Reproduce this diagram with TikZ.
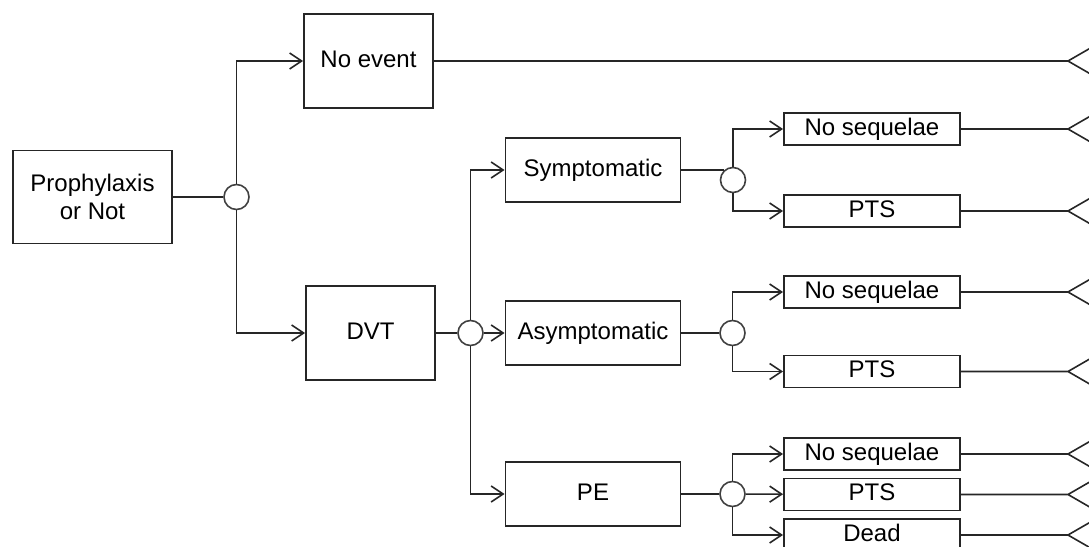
\documentclass[tikz,border=0pt]{standalone}
\usepackage{fontspec}
\setmainfont{Liberation Sans}
\usetikzlibrary{arrows.meta}

\begin{document}
\begin{tikzpicture}[x=0.5pt, y=-0.5pt,
  box/.style={draw=black!85, line width=0.9pt, align=center, inner sep=1pt,
              font=\fontsize{12}{14}\selectfont, text height=8.8pt, text depth=2.4pt},
  bigbox/.style={box, minimum width=64.5pt, minimum height=47pt},
  midbox/.style={box, minimum width=87.5pt, minimum height=32pt},
  endbox/.style={box, minimum width=88pt, minimum height=16pt},
  chance/.style={circle, draw=black!75, fill=white, line width=0.8pt,
                 minimum size=12.5pt, inner sep=0pt},
  line/.style={draw=black!85, line width=0.8pt},
  arr/.style={line, -{Straight Barb[length=6pt,width=8pt]}}]
\useasboundingbox (0,0) rectangle (1089,547);
\clip (0,0) rectangle (1089,547);

% decision and first chance node
\node[box, minimum width=79.5pt, minimum height=46.5pt, text height=, text depth=] (root)
  at (92.5,197) {Prophylaxis\\or Not};
\node[chance] (c1) at (236.5,197) {};
\node[bigbox] (noev) at (368.5,61) {No event};
\node[bigbox] (dvt) at (370.5,333) {DVT};

% DVT branches
\node[chance] (c2) at (470.5,333) {};
\node[midbox] (sym) at (593,170) {Symptomatic};
\node[midbox] (asym) at (593,333) {Asymptomatic};
\node[midbox] (pe) at (593,494) {PE};
\node[chance] (c3) at (733,180) {};
\node[chance] (c4) at (732.5,333) {};
\node[chance] (c5) at (732.5,494) {};

% outcomes
\node[endbox] (s1) at (872,129) {No sequelae};
\node[endbox] (s2) at (872,211) {PTS};
\node[endbox] (a1) at (872,292) {No sequelae};
\node[endbox] (a2) at (872,371.5) {PTS};
\node[endbox] (p1) at (872,454) {No sequelae};
\node[endbox] (p2) at (872,494.5) {PTS};
\node[endbox] (p3) at (872,535) {Dead};
\coordinate (rim) at (1068,0);

\draw[line, line width=1.2pt] (root) -- (c1);
\draw[arr] (c1) |- (noev);
\draw[arr] (c1) |- (dvt);
\draw[line, line width=1.2pt] (dvt) -- (c2);
\draw[arr] (c2) |- (sym);
\draw[arr] (c2) -- (asym);
\draw[arr] (c2) |- (pe);
\draw[line] (sym.east) -- (sym.east -| c3.north west);
\draw[arr] (c3) |- (s1);
\draw[arr] (c3) |- (s2);
\draw[line] (asym) -- (c4);
\draw[arr] (c4) |- (a1);
\draw[arr] (c4) |- (a2);
\draw[line] (pe) -- (c5);
\draw[arr] (c5) |- (p1);
\draw[arr] (c5) -- (p2);
\draw[arr] (c5) |- (p3);

% terminal markers at the right edge
\foreach \n in {noev,s1,s2,a1,a2,p1,p2,p3} {
  \coordinate (e-\n) at (\n -| rim);
  \draw[line] (\n) -- (e-\n) +(26,-15) -- (e-\n) -- +(26,15);
}
\end{tikzpicture}
\end{document}
